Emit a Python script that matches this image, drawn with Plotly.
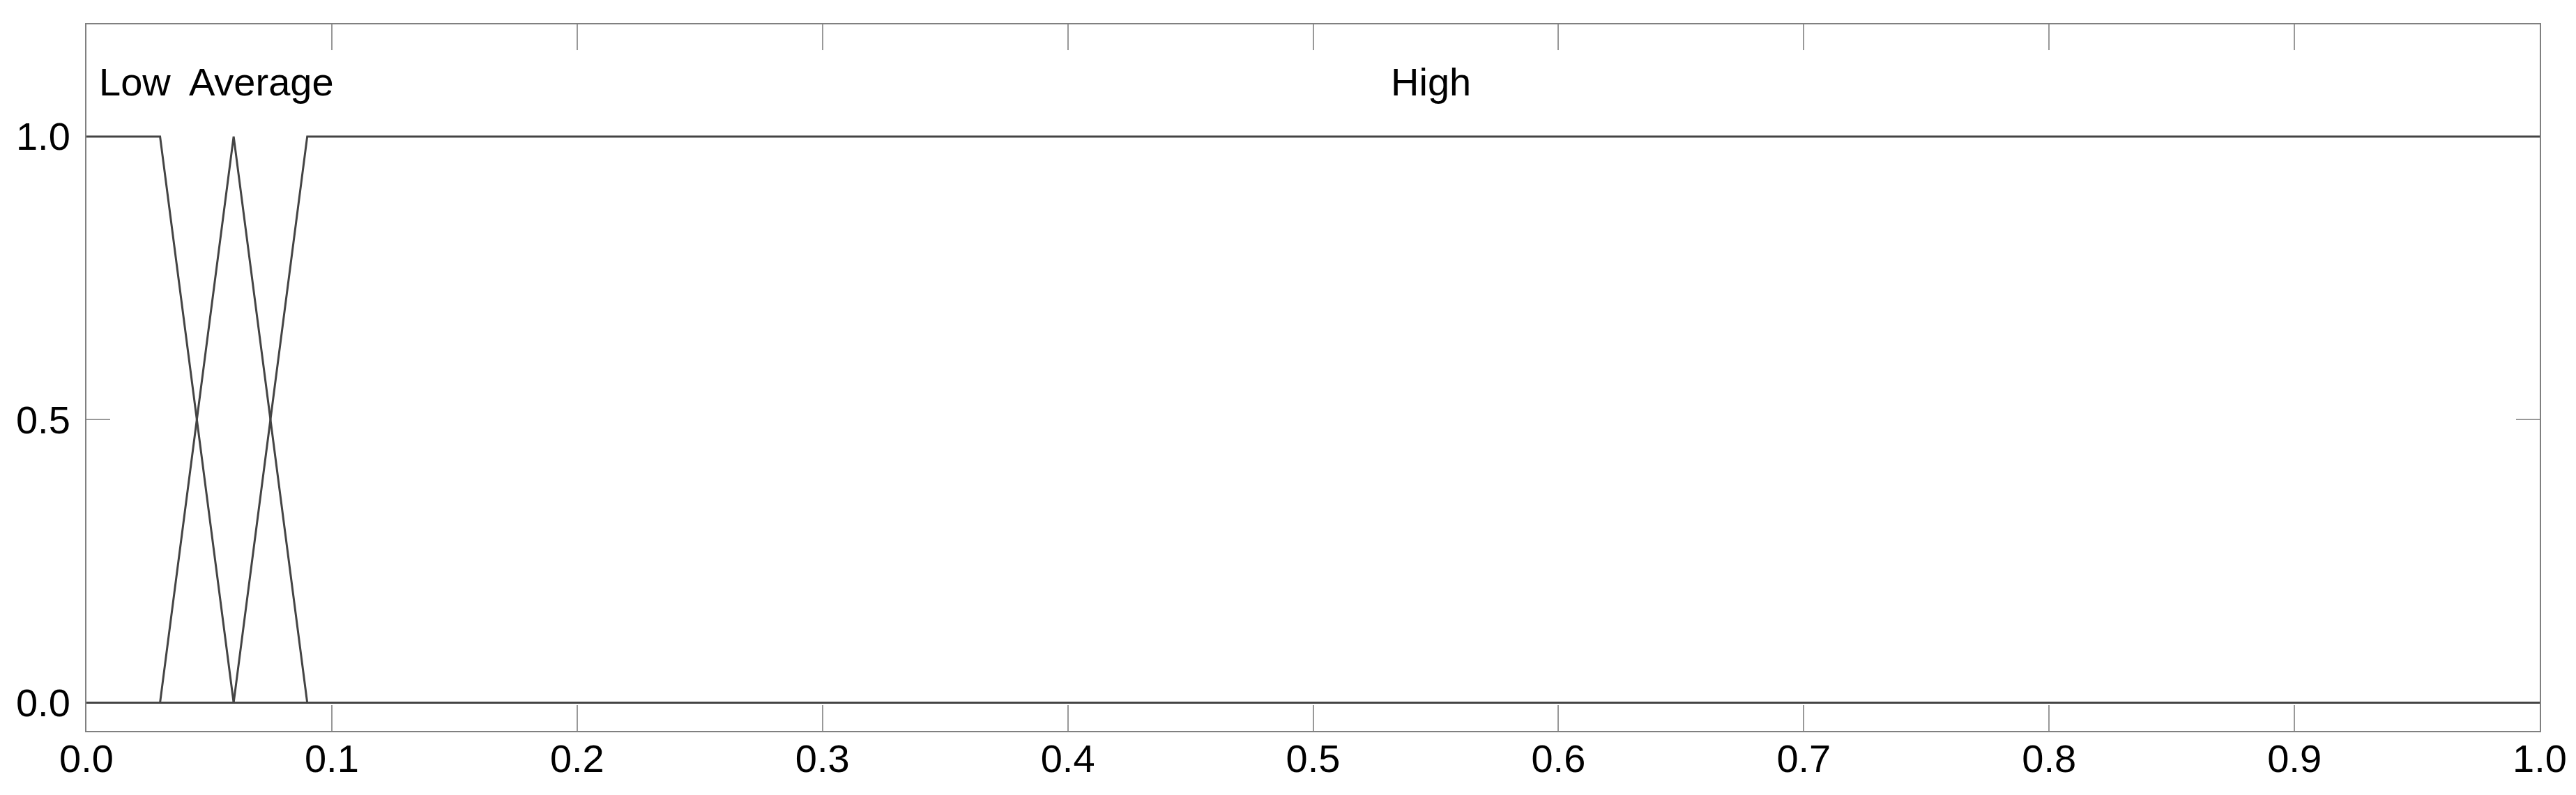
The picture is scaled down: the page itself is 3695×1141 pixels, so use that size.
import plotly.graph_objects as go

# Membership functions (x breakpoints, membership values)
low_x = [0.0, 0.03, 0.06, 1.0]
low_y = [1.0, 1.0, 0.0, 0.0]
avg_x = [0.0, 0.03, 0.06, 0.09, 1.0]
avg_y = [0.0, 0.0, 1.0, 0.0, 0.0]
high_x = [0.0, 0.06, 0.09, 1.0]
high_y = [0.0, 0.0, 1.0, 1.0]

labels = ["Low", "Average", "High"]
label_x = [0.0197, 0.0713, 0.548]
label_y = [1.097, 1.097, 1.097]

x_ticks = [0.0, 0.1, 0.2, 0.3, 0.4, 0.5, 0.6, 0.7, 0.8, 0.9, 1.0]
y_ticks = [0.0, 0.5, 1.0]

FONT = "Liberation Sans, Arial, sans-serif"
LINE_COLOR = "#444444"

fig = go.Figure()
for xs, ys, name in [(low_x, low_y, "Low"), (avg_x, avg_y, "Average"), (high_x, high_y, "High")]:
    fig.add_trace(go.Scatter(x=xs, y=ys, mode="lines", name=name,
                             line=dict(color=LINE_COLOR, width=3), showlegend=False,
                             cliponaxis=False))

for t, lx, ly in zip(labels, label_x, label_y):
    fig.add_annotation(x=lx, y=ly, text=t, showarrow=False, xanchor="center", yanchor="middle",
                       font=dict(family=FONT, size=56, color="black"))

fig.update_layout(
    template="none",
    width=3695, height=1141,
    margin=dict(l=116, r=60, t=27, b=100, pad=0),
    plot_bgcolor="white", paper_bgcolor="white",
    font=dict(family=FONT, size=56, color="black"),
)
fig.update_xaxes(range=[0, 1], tickvals=x_ticks, ticktext=[f"{v:.1f}" for v in x_ticks],
                 ticks="inside", ticklen=37, tickwidth=2, tickcolor="#999999",
                 showline=True, linecolor="#808080", linewidth=2, mirror="ticks",
                 showgrid=False, zeroline=False, ticklabelstandoff=-10,
                 automargin=False, layer="below traces")
fig.update_yaxes(range=[-0.05, 1.198], tickvals=y_ticks, ticktext=[f"{v:.1f}" for v in y_ticks],
                 ticks="inside", ticklen=34, tickwidth=2, tickcolor="#999999",
                 showline=True, linecolor="#808080", linewidth=2, mirror="ticks",
                 showgrid=False, zeroline=False, ticklabelstandoff=10,
                 automargin=False, layer="below traces")

fig.write_html("out.html")
